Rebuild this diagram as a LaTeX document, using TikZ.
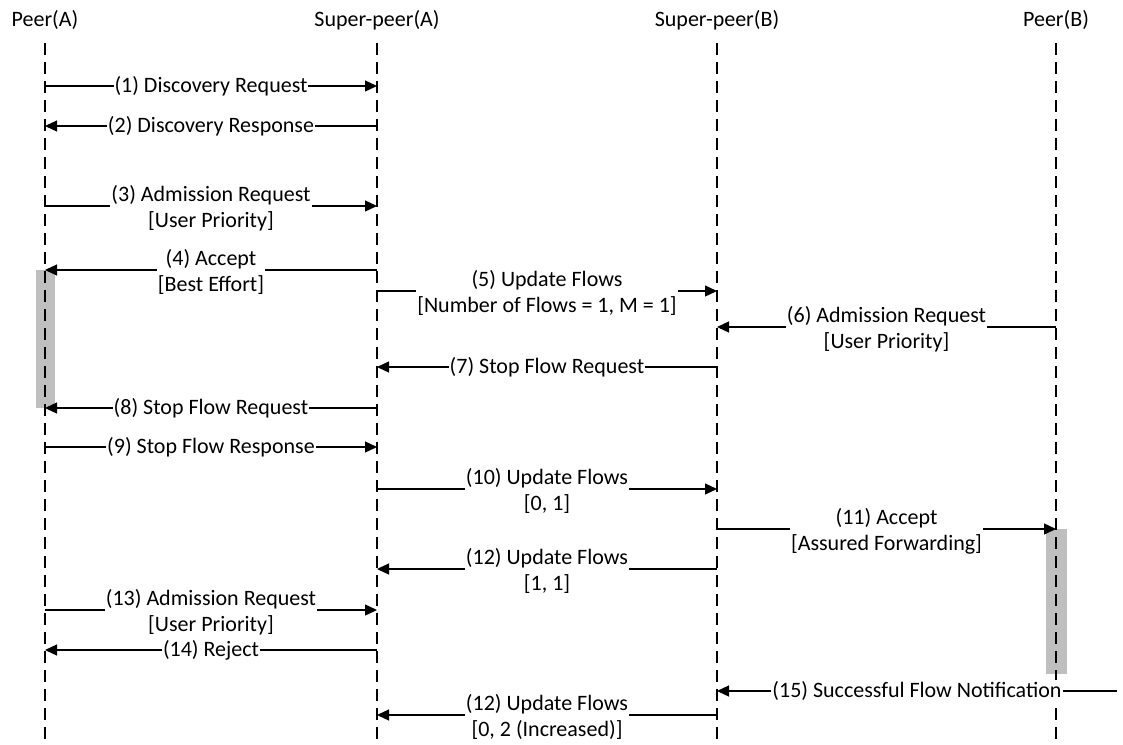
\documentclass[tikz,border=0pt]{standalone}
\usepackage{fontspec}
\setmainfont{Carlito}
\usetikzlibrary{arrows.meta}
\definecolor{actgray}{RGB}{191,191,191}
\begin{document}
\begin{tikzpicture}[x=1pt,y=-1pt,
  every node/.style={font=\fontsize{22}{26}\selectfont},
  head/.style={anchor=base,inner sep=0pt},
  life/.style={line width=1.2pt,dash pattern=on 12pt off 7pt},
  msg/.style={line width=1.3pt,-{Triangle[length=12pt,width=11pt]}},
  lbl/.style={fill=white,inner sep=1pt,align=center},
  act/.style={fill=actgray}]
\useasboundingbox (0,0) rectangle (1123,744);

% participants
\node[head] (pA)  at (45,26)   {Peer(A)};
\node[head] (spA) at (377,26)  {Super-peer(A)};
\node[head] (spB) at (717,26)  {Super-peer(B)};
\node[head] (pB)  at (1056,26) {Peer(B)};

% activation bars
\fill[act] (36,270) rectangle (55,408);
\fill[act] (1046,529) rectangle (1067,674);

% lifelines
\coordinate (top) at (0,43);
\coordinate (bot) at (0,742);
\foreach \p in {pA,spA,spB,pB}
  \draw[life] (\p |- top) -- (\p |- bot);

% message rows
\coordinate (r1)  at (0,86);
\coordinate (r2)  at (0,126);
\coordinate (r3)  at (0,206);
\coordinate (r4)  at (0,270);
\coordinate (r5)  at (0,291);
\coordinate (r6)  at (0,327);
\coordinate (r7)  at (0,367);
\coordinate (r8)  at (0,408);
\coordinate (r9)  at (0,447);
\coordinate (r10) at (0,489);
\coordinate (r11) at (0,529);
\coordinate (r12) at (0,569);
\coordinate (r13) at (0,610);
\coordinate (r14) at (0,650);
\coordinate (r15) at (0,691);
\coordinate (r16) at (0,715);
\coordinate (e15) at (1117,691);

% messages
\draw[msg] (pA |- r1) -- node[lbl]{(1) Discovery Request} (spA |- r1);
\draw[msg] (spA |- r2) -- node[lbl]{(2) Discovery Response} (pA |- r2);
\draw[msg] (pA |- r3) -- node[lbl,yshift=-2pt]{(3) Admission Request\\{}[User Priority]} (spA |- r3);
\draw[msg] (spA |- r4) -- node[lbl,yshift=-2pt]{(4) Accept\\{}[Best Effort]} (pA |- r4);
\draw[msg] (spA |- r5) -- node[lbl,yshift=-2pt]{(5) Update Flows\\{}[Number of Flows = 1, M = 1]} (spB |- r5);
\draw[msg] (pB |- r6) -- node[lbl,yshift=-2pt]{(6) Admission Request\\{}[User Priority]} (spB |- r6);
\draw[msg] (spB |- r7) -- node[lbl]{(7) Stop Flow Request} (spA |- r7);
\draw[msg] (spA |- r8) -- node[lbl]{(8) Stop Flow Request} (pA |- r8);
\draw[msg] (pA |- r9) -- node[lbl]{(9) Stop Flow Response} (spA |- r9);
\draw[msg] (spA |- r10) -- node[lbl,yshift=-2pt]{(10) Update Flows\\{}[0, 1]} (spB |- r10);
\draw[msg] (spB |- r11) -- node[lbl,yshift=-2pt]{(11) Accept\\{}[Assured Forwarding]} (pB |- r11);
\draw[msg] (spB |- r12) -- node[lbl,yshift=-2pt]{(12) Update Flows\\{}[1, 1]} (spA |- r12);
\draw[msg] (pA |- r13) -- node[lbl,yshift=-2pt]{(13) Admission Request\\{}[User Priority]} (spA |- r13);
\draw[msg] (spA |- r14) -- node[lbl]{(14) Reject} (pA |- r14);
\draw[msg] (e15) -- node[lbl]{(15) Successful Flow Notification} (spB |- r15);
\draw[msg] (spB |- r16) -- node[lbl,yshift=-2pt]{(12) Update Flows\\{}[0, 2 (Increased)]} (spA |- r16);
\end{tikzpicture}
\end{document}
